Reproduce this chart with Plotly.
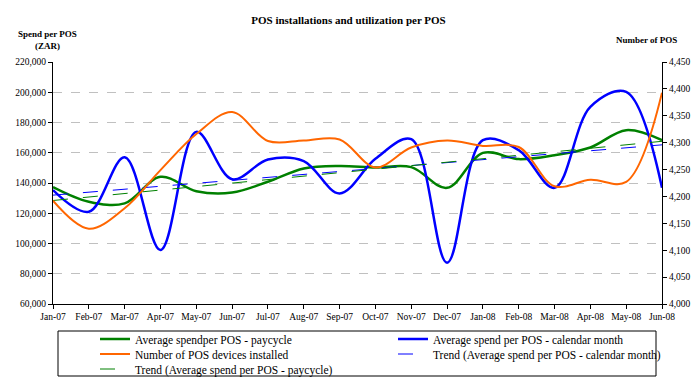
import numpy as np
import plotly.graph_objects as go

months = ["Jan-07", "Feb-07", "Mar-07", "Apr-07", "May-07", "Jun-07", "Jul-07", "Aug-07", "Sep-07",
          "Oct-07", "Nov-07", "Dec-07", "Jan-08", "Feb-08", "Mar-08", "Apr-08", "May-08", "Jun-08"]

spend_paycycle = [137300, 127600, 126500, 144100, 134600, 133700, 140800, 149600, 151300,
                  150300, 150500, 136800, 159900, 155800, 158400, 163500, 174900, 168300]

spend_calendar = [135300, 121000, 157000, 95700, 173800, 142500, 155500, 154500, 133100,
                  156000, 169000, 87300, 168300, 161700, 136800, 190300, 200200, 136800]

pos_installed = [4192, 4140, 4178, 4249, 4316, 4357, 4303, 4304, 4306,
                 4254, 4291, 4304, 4294, 4292, 4219, 4231, 4227, 4393]

idx = np.arange(len(months))
trend_cal = np.polyval(np.polyfit(idx, spend_calendar, 1), idx)
trend_pay = np.polyval(np.polyfit(idx, spend_paycycle, 1), idx)

FONT = "Liberation Serif"
W, H = 697, 381

fig = go.Figure()
fig.add_trace(go.Scatter(x=months, y=spend_paycycle, mode="lines", name="Average spendper POS - paycycle",
                         legend="legend",
                         line=dict(color="#008000", width=2.5, shape="spline", smoothing=1.0)))
fig.add_trace(go.Scatter(x=months, y=spend_calendar, mode="lines", name="Average spend per POS - calendar month",
                         legend="legend2",
                         line=dict(color="#0000FF", width=2.5, shape="spline", smoothing=1.0)))
fig.add_trace(go.Scatter(x=months, y=pos_installed, mode="lines", name="Number of POS devices installed",
                         yaxis="y2", legend="legend3",
                         line=dict(color="#FF6600", width=2, shape="spline", smoothing=1.0)))
fig.add_trace(go.Scatter(x=months, y=trend_cal, mode="lines", name="Trend (Average spend per POS - calendar month)",
                         legend="legend4",
                         line=dict(color="#0000FF", width=1, dash="longdash")))
fig.add_trace(go.Scatter(x=months, y=trend_pay, mode="lines", name="Trend (Average spend per POS - paycycle)",
                         legend="legend5",
                         line=dict(color="#008000", width=1, dash="longdash")))


def leg(px, py):
    return dict(xref="container", yref="container", x=px / W, y=1 - py / H, xanchor="left",
                yanchor="middle", bgcolor="rgba(0,0,0,0)", borderwidth=0, itemwidth=30,
                font=dict(family=FONT, size=11.5, color="black"))


fig.update_layout(
    width=W, height=H,
    margin=dict(l=53, r=35, t=62, b=77, autoexpand=False),
    paper_bgcolor="white", plot_bgcolor="white",
    font=dict(family=FONT, size=10, color="black"),
    showlegend=True,
    hovermode=False,
    title=dict(text="<b>POS installations and utilization per POS</b>", x=0.5, xanchor="center",
               y=1 - 20 / H, yanchor="middle", font=dict(family=FONT, size=11, color="black")),
    xaxis=dict(type="category", range=[0, 17], showline=True, linecolor="black", linewidth=1,
               ticks="outside", ticklen=4, tickcolor="black", showgrid=False,
               tickfont=dict(family=FONT, size=9.5), tickangle=0),
    yaxis=dict(range=[60000, 220000], dtick=20000, tickformat=",", showline=True, linecolor="black",
               linewidth=1, ticks="outside", ticklen=4, tickcolor="black", showgrid=True,
               gridcolor="#C0C0C0", griddash="dash", gridwidth=1, zeroline=False,
               tickfont=dict(family=FONT, size=9.5)),
    yaxis2=dict(range=[4000, 4450], dtick=50, tickformat=",", overlaying="y", side="right",
                showline=True, linecolor="black", linewidth=1, ticks="outside", ticklen=4,
                tickcolor="black", showgrid=False, zeroline=False, tickfont=dict(family=FONT, size=9.5)),
    legend=leg(95, 339),
    legend2=leg(393, 339),
    legend3=leg(95, 354),
    legend4=leg(393, 354),
    legend5=leg(95, 369),
    annotations=[
        dict(text="<b>Spend per POS<br>(ZAR)</b>", xref="paper", yref="paper", x=-6 / 609, y=1 + 22 / 242,
             xanchor="center", yanchor="middle", showarrow=False, font=dict(family=FONT, size=9)),
        dict(text="<b>Number of POS</b>", xref="paper", yref="paper", x=1 + 17 / 609, y=1 + 22 / 242,
             xanchor="right", yanchor="middle", showarrow=False, font=dict(family=FONT, size=9)),
    ],
    shapes=[dict(type="rect", xref="paper", yref="paper", x0=5 / 609, x1=603 / 609,
                 y0=-(376 - 304) / 242, y1=-(331 - 304) / 242, line=dict(color="black", width=1))],
)

fig.write_html("out.html", config={"displayModeBar": False, "staticPlot": True},
               post_script="document.body.style.margin='0';document.body.style.padding='0';")
